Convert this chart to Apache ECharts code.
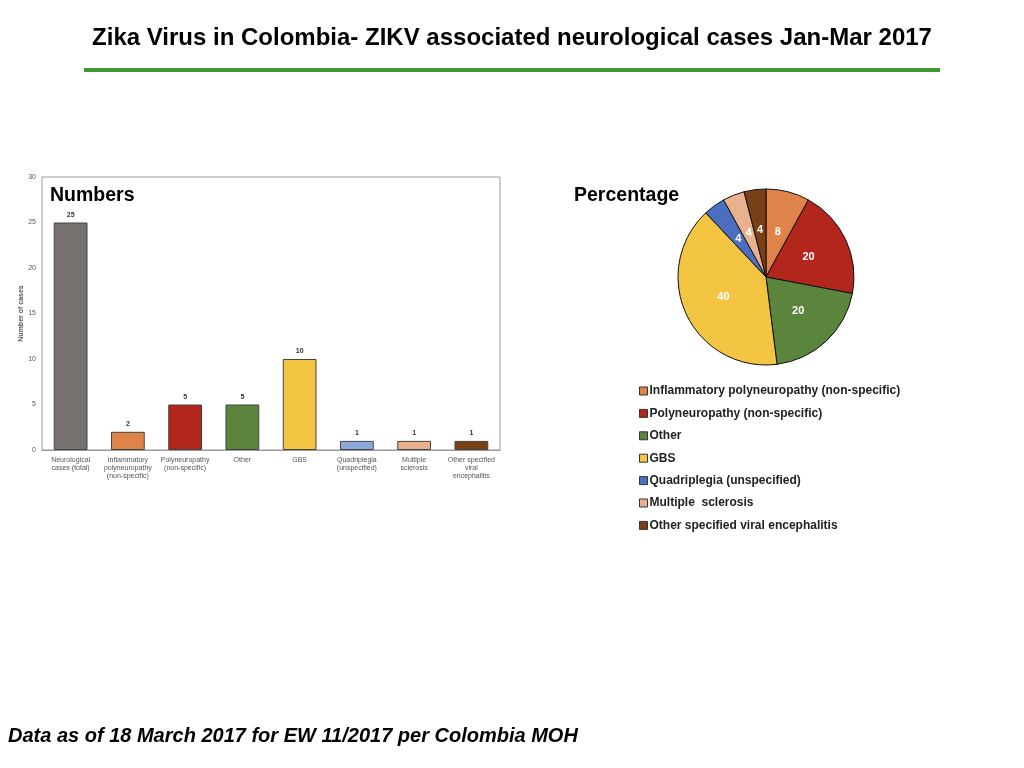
<!DOCTYPE html>
<html>
<head>
	<meta charset="utf-8">
	<title>Zika Virus in Colombia</title>
	<script src="https://cdn.jsdelivr.net/npm/echarts@6/dist/echarts.min.js"></script>
	<style>
		html, body { margin: 0; padding: 0; background: #fff; }
		#main { width: 1024px; height: 768px; }
	</style>
</head>
<body>
	<div id="main"></div>
	<script>
		// bar chart data
		var categories = ['Neurological\ncases (total)', 'Inflammatory\npolyneuropathy\n(non-specific)', 'Polyneuropathy\n(non-specific)', 'Other', 'GBS', 'Quadriplegia\n(unspecified)', 'Multiple\nsclerosis', 'Other specified\nviral\nencephalitis'];
		var caseCounts = [25, 2, 5, 5, 10, 1, 1, 1];
		var barColors = ['#76716f', '#e0834a', '#b2261e', '#5b843d', '#f4c443', '#8eaadb', '#e9b18e', '#7b3f18'];
		var yTicks = { min: 0, max: 30, interval: 5 };

		// pie data
		var pieNames = ['Inflammatory polyneuropathy (non-specific)', 'Polyneuropathy (non-specific)', 'Other', 'GBS', 'Quadriplegia (unspecified)', 'Multiple  sclerosis', 'Other specified viral encephalitis'];
		var piePercent = [8, 20, 20, 40, 4, 4, 4];
		var pieColors = ['#e0834a', '#b2261e', '#5b843d', '#f4c443', '#4a6fc1', '#e9b18e', '#7b3f18'];

		var font = 'Liberation Sans, Arial, Helvetica, sans-serif';
		var chart = echarts.init(document.getElementById('main'));

		chart.setOption({
			backgroundColor: '#fff',
			textStyle: { fontFamily: font },
			title: [
				{
					text: 'Zika Virus in Colombia- ZIKV associated neurological cases Jan-Mar 2017',
					left: 'center', top: 21,
					textStyle: { fontSize: 24, fontWeight: 'bold', color: '#000', fontFamily: font }
				},
				{
					text: 'Numbers', left: 45, top: 181,
					textStyle: { fontSize: 19.5, fontWeight: 'bold', color: '#000', fontFamily: font }
				},
				{
					text: 'Percentage', left: 569, top: 181,
					textStyle: { fontSize: 19.5, fontWeight: 'bold', color: '#000', fontFamily: font }
				},
				{
					text: 'Data as of 18 March 2017 for EW 11/2017 per Colombia MOH', left: 3, top: 721,
					textStyle: { fontSize: 20, fontWeight: 'bold', fontStyle: 'italic', color: '#000', fontFamily: font }
				}
			],
			graphic: [{
				type: 'rect',
				shape: { x: 84, y: 68, width: 856, height: 4 },
				style: { fill: '#3f9a30' }
			}],
			grid: {
				left: 42, right: 524, top: 177, bottom: 318,
				show: true, borderColor: '#999', borderWidth: 1, backgroundColor: '#fff'
			},
			xAxis: {
				type: 'category',
				data: categories,
				axisLine: { lineStyle: { color: '#999' } },
				axisTick: { show: false },
				axisLabel: { fontSize: 7, color: '#555', lineHeight: 8, interval: 0, margin: 6 }
			},
			yAxis: {
				type: 'value',
				min: yTicks.min, max: yTicks.max, interval: yTicks.interval,
				name: 'Number of cases',
				nameLocation: 'middle', nameGap: 16,
				nameTextStyle: { fontSize: 7, color: '#555', fontWeight: 'bold' },
				axisLine: { show: false },
				axisTick: { show: false },
				splitLine: { show: false },
				axisLabel: { fontSize: 7, color: '#555', margin: 6 }
			},
			legend: {
				orient: 'vertical',
				left: 634, top: 379,
				itemWidth: 8, itemHeight: 8, itemGap: 8.4,
				icon: 'rect',
				itemStyle: { borderColor: '#333', borderWidth: 1 },
				textStyle: { fontSize: 12, fontWeight: 'bold', color: '#222', lineHeight: 14, padding: [0, 0, 0, -3] },
				data: pieNames
			},
			series: [
				{
					type: 'bar',
					data: caseCounts.map(function (v, i) {
						return { value: v, itemStyle: { color: barColors[i] } };
					}),
					barWidth: '59%',
					itemStyle: { borderColor: '#444', borderWidth: 1 },
					label: { show: true, position: 'top', fontSize: 7, color: '#333', fontWeight: 'bold', distance: 4 }
				},
				{
					type: 'pie',
					center: [766, 277],
					radius: 88,
					startAngle: 90,
					clockwise: true,
					data: pieNames.map(function (n, i) {
						return { name: n, value: piePercent[i], itemStyle: { color: pieColors[i] } };
					}),
					itemStyle: { borderColor: '#111', borderWidth: 1 },
					label: { show: true, position: 'inside', formatter: '{c}', color: '#fff', fontSize: 11, fontWeight: 'bold' },
					labelLine: { show: false },
					emphasis: { disabled: true }
				}
			]
		});
	</script>
</body>
</html>
